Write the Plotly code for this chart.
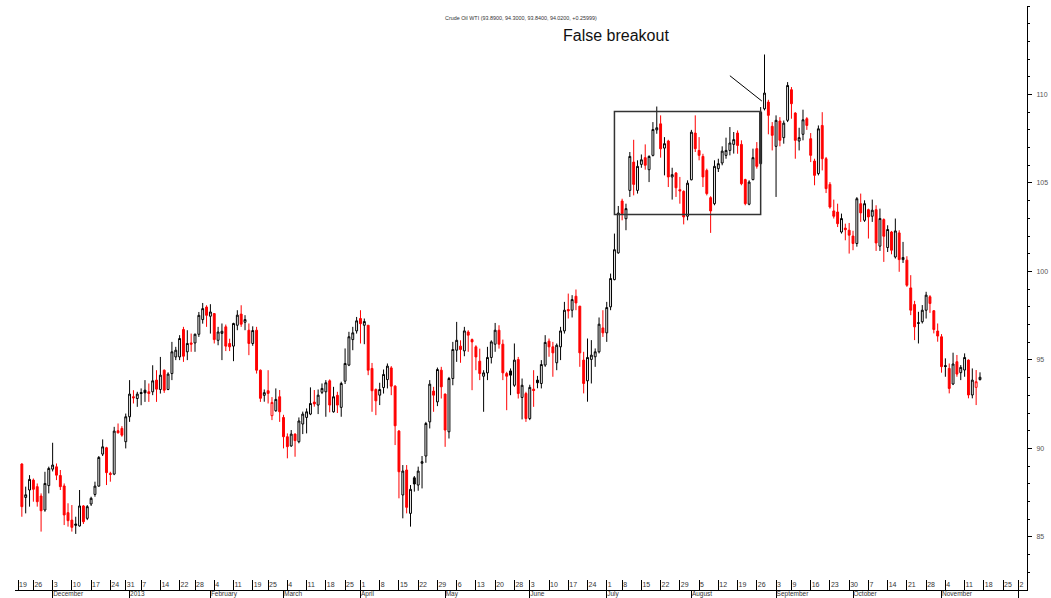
import pandas as pd
import plotly.graph_objects as go

# ---------------- data ----------------
first_date = "2012-11-20"   # first candle
open_ = [89.12, 87.23, 87.65, 88.21, 87.84, 87.31, 86.52, 87.90, 88.83, 88.96,
         88.47, 87.88, 86.37, 85.95, 85.73, 85.62, 86.75, 86.05, 86.86, 87.40,
         87.87, 89.68, 90.04, 88.59, 88.55, 91.00, 91.13, 90.38, 91.79, 92.92,
         92.82, 93.16, 93.29, 93.20, 93.20, 93.86, 93.33, 94.42, 93.33, 94.23,
         95.17, 95.17, 96.72, 95.46, 95.96, 95.96, 96.45, 97.28, 97.99, 97.47,
         97.62, 96.11, 96.50, 96.87, 95.93, 95.78, 96.96, 97.59, 97.13, 96.68,
         95.93, 96.68, 94.42, 93.00, 93.26, 91.85, 92.13, 92.92, 91.75, 90.66,
         90.14, 90.81, 90.38, 91.38, 91.75, 91.94, 92.62, 92.45, 93.17, 93.20,
         93.82, 92.07, 93.00, 92.32, 93.80, 94.71, 96.15, 96.64, 97.34, 96.96,
         96.96, 94.52, 93.33, 93.01, 93.44, 93.89, 94.55, 93.52, 90.98, 87.37,
         88.78, 86.33, 88.34, 87.93, 89.16, 89.57, 91.50, 93.24, 92.63, 94.42,
         93.07, 90.94, 93.95, 95.55, 95.78, 95.51, 96.58, 96.15, 95.74, 94.93,
         94.08, 94.27, 95.14, 95.89, 96.68, 95.89, 94.23, 94.38, 93.57, 95.02,
         92.88, 93.10, 91.69, 93.35, 93.86, 93.67, 94.71, 96.06, 95.74, 94.84,
         95.74, 96.64, 97.85, 97.81, 98.60, 98.04, 94.99, 93.82, 95.03, 95.18,
         95.46, 96.81, 96.53, 98.00, 99.54, 101.05, 103.98, 102.98, 104.58, 106.18,
         104.58, 106.05, 106.43, 105.75, 106.56, 108.00, 108.34, 106.97, 107.37, 105.34,
         105.56, 104.62, 104.53, 103.12, 105.18, 107.82, 106.84, 106.50, 105.71, 104.17,
         103.83, 105.81, 106.13, 106.56, 106.84, 107.18, 107.82, 107.18, 105.19, 103.80,
         105.19, 106.94, 106.09, 109.19, 109.57, 108.20, 107.07, 108.50, 107.56, 108.54,
         110.27, 108.95, 107.37, 107.75, 108.63, 107.50, 106.24, 105.53, 108.25, 106.37,
         104.92, 103.42, 103.36, 102.23, 102.45, 102.33, 102.00, 101.58, 103.83, 102.89,
         103.49, 103.12, 103.49, 101.43, 102.93, 101.35, 102.23, 100.82, 102.18, 100.67,
         100.64, 99.07, 98.13, 97.06, 97.16, 97.81, 98.57, 97.78, 96.63, 96.31,
         94.68, 94.52, 93.64, 94.90, 94.28, 94.43, 94.99, 93.02, 93.45, 93.89]
high = [89.16, 87.84, 88.49, 88.30, 88.02, 87.46, 88.68, 88.97, 90.32, 89.15,
        88.78, 88.02, 86.90, 86.80, 86.14, 87.65, 86.80, 86.80, 87.27, 88.12,
        89.57, 90.51, 90.09, 88.68, 91.22, 91.41, 91.26, 91.97, 93.86, 93.29,
        93.20, 93.39, 93.86, 93.67, 94.70, 94.42, 95.17, 94.46, 94.30, 96.02,
        95.74, 96.40, 96.87, 96.68, 96.49, 96.49, 97.71, 98.22, 98.09, 98.15,
        97.62, 96.87, 97.06, 97.00, 96.20, 97.10, 97.81, 98.09, 97.53, 97.06,
        96.90, 96.87, 94.46, 93.33, 94.42, 92.90, 93.39, 93.30, 91.90, 90.85,
        91.04, 90.85, 91.75, 92.08, 92.26, 93.45, 93.30, 93.33, 93.67, 93.86,
        93.90, 93.48, 93.20, 93.77, 95.65, 96.59, 96.87, 97.43, 97.81, 97.34,
        96.96, 94.83, 93.39, 93.71, 94.46, 94.80, 94.65, 93.57, 91.04, 89.06,
        89.06, 87.93, 88.44, 88.97, 89.57, 91.50, 93.86, 93.48, 94.57, 94.61,
        93.10, 94.04, 96.02, 97.15, 96.11, 96.87, 96.68, 96.21, 95.83, 95.64,
        94.42, 95.74, 96.11, 97.09, 96.96, 96.15, 94.33, 94.52, 95.93, 95.17,
        93.95, 93.20, 93.60, 94.42, 94.10, 94.99, 96.40, 96.21, 96.02, 95.93,
        96.87, 98.28, 98.75, 98.66, 98.98, 98.04, 95.46, 96.21, 96.12, 95.65,
        97.40, 97.81, 98.28, 99.88, 102.14, 103.70, 104.11, 103.83, 106.75, 107.44,
        106.28, 106.61, 107.18, 106.56, 108.44, 109.32, 108.82, 107.59, 107.44, 105.86,
        105.62, 105.34, 104.58, 105.15, 108.00, 108.82, 107.59, 106.65, 105.81, 104.25,
        106.28, 106.37, 107.07, 107.56, 108.16, 107.88, 107.97, 107.41, 105.24, 105.15,
        106.94, 107.31, 109.29, 112.26, 109.70, 108.44, 108.82, 108.72, 108.53, 110.70,
        110.42, 109.00, 108.12, 109.14, 108.72, 107.82, 106.37, 108.25, 109.00, 106.47,
        105.05, 104.06, 103.83, 103.27, 102.70, 102.74, 102.30, 104.20, 104.40, 104.02,
        103.55, 104.06, 103.74, 103.55, 103.00, 102.61, 102.29, 102.99, 102.33, 101.67,
        100.86, 99.79, 98.34, 97.72, 98.10, 98.85, 98.66, 97.81, 97.06, 96.46,
        95.09, 94.80, 95.41, 95.28, 94.71, 95.37, 95.03, 94.52, 94.43, 94.30]
low = [86.14, 86.33, 86.71, 86.99, 86.71, 85.30, 86.42, 87.46, 88.70, 88.21,
       87.65, 85.67, 85.58, 85.30, 85.17, 85.58, 85.73, 85.95, 86.75, 87.27,
       87.84, 89.57, 87.93, 88.12, 88.49, 90.85, 90.66, 90.00, 91.50, 92.54,
       92.35, 92.44, 92.63, 92.63, 93.01, 92.63, 93.10, 93.14, 93.29, 93.86,
       94.99, 94.99, 94.89, 94.99, 95.46, 95.46, 96.30, 97.05, 96.87, 96.49,
       95.93, 95.83, 94.99, 95.50, 95.50, 94.93, 96.68, 96.87, 96.68, 95.27,
       95.80, 94.23, 92.63, 92.64, 92.54, 91.60, 92.07, 91.50, 90.00, 89.44,
       90.09, 89.53, 90.29, 90.81, 90.85, 91.88, 92.36, 91.94, 93.07, 91.79,
       92.04, 92.02, 92.00, 91.79, 93.64, 94.65, 95.55, 96.49, 95.93, 95.89,
       94.14, 92.07, 91.88, 92.45, 93.10, 93.39, 93.01, 90.19, 87.18, 86.05,
       86.33, 85.58, 87.56, 87.61, 87.74, 89.19, 91.13, 92.07, 92.39, 92.82,
       90.09, 90.56, 93.57, 94.89, 94.84, 95.21, 95.46, 93.29, 94.42, 93.86,
       92.07, 93.86, 94.80, 95.46, 95.64, 93.86, 92.16, 93.01, 93.48, 92.82,
       91.64, 91.50, 91.60, 92.35, 93.40, 93.39, 94.61, 95.18, 94.05, 94.42,
       94.99, 96.49, 97.34, 97.40, 97.81, 94.61, 93.11, 92.64, 93.67, 94.61,
       95.37, 96.30, 96.02, 97.81, 99.50, 101.00, 102.89, 102.33, 104.21, 104.30,
       104.40, 105.86, 105.75, 105.05, 106.50, 107.78, 106.43, 105.43, 104.77, 104.06,
       104.21, 103.83, 102.66, 102.89, 105.15, 106.75, 106.28, 104.77, 104.30, 102.18,
       103.74, 105.62, 106.00, 106.37, 106.56, 106.66, 106.65, 104.87, 103.74, 103.74,
       105.15, 105.81, 106.05, 109.10, 107.75, 106.84, 104.21, 107.07, 107.22, 108.44,
       108.63, 106.37, 106.84, 107.41, 108.00, 106.18, 104.87, 105.43, 105.71, 104.43,
       103.55, 102.99, 102.51, 102.14, 101.76, 101.01, 101.20, 101.40, 102.80, 102.80,
       101.86, 102.80, 101.16, 101.16, 100.54, 101.10, 100.97, 100.73, 99.98, 100.48,
       99.13, 97.53, 96.12, 95.93, 97.06, 97.34, 97.66, 96.50, 96.03, 94.28,
       94.05, 93.11, 93.58, 94.05, 93.86, 94.05, 92.83, 92.83, 92.45, 93.84]
close = [86.71, 87.38, 88.25, 87.69, 86.99, 86.48, 88.02, 88.87, 89.06, 88.49,
         87.84, 86.24, 85.92, 85.54, 85.66, 86.75, 85.86, 86.71, 87.18, 87.87,
         89.49, 90.09, 88.63, 88.53, 90.98, 90.88, 90.75, 91.79, 93.07, 92.86,
         93.07, 93.10, 93.14, 93.10, 93.82, 93.35, 94.14, 93.29, 94.20, 95.46,
         95.55, 96.21, 95.21, 95.93, 95.89, 96.45, 97.52, 97.90, 97.52, 97.71,
         96.15, 96.58, 96.62, 95.78, 95.74, 97.06, 97.53, 97.02, 97.28, 95.93,
         96.66, 94.42, 92.83, 93.15, 93.11, 92.60, 92.77, 92.07, 90.66, 90.10,
         90.81, 90.44, 91.55, 91.94, 92.07, 92.54, 92.51, 93.01, 93.39, 93.71,
         92.45, 92.92, 92.45, 93.67, 94.80, 96.31, 96.53, 97.21, 97.05, 97.17,
         94.42, 93.26, 92.69, 93.33, 94.18, 94.65, 93.52, 91.28, 88.68, 88.72,
         86.67, 87.69, 87.99, 88.72, 89.25, 91.41, 93.63, 93.01, 94.46, 93.48,
         91.04, 93.95, 95.59, 96.11, 95.59, 96.64, 96.40, 96.02, 95.17, 94.23,
         94.27, 95.14, 96.02, 96.68, 95.89, 94.27, 94.08, 94.14, 94.99, 93.10,
         93.57, 91.69, 93.45, 93.27, 93.71, 94.74, 95.99, 95.74, 95.40, 95.83,
         96.64, 97.81, 97.77, 98.41, 98.22, 95.40, 93.67, 95.14, 95.27, 95.46,
         97.02, 96.53, 97.96, 99.60, 101.23, 103.30, 103.26, 103.55, 106.50, 104.92,
         105.94, 106.31, 106.00, 106.50, 108.02, 108.12, 106.93, 107.22, 105.34, 105.47,
         104.73, 104.55, 103.08, 104.99, 107.87, 106.94, 106.56, 105.34, 104.40, 103.42,
         105.94, 106.09, 106.80, 106.84, 107.26, 107.45, 107.12, 104.96, 103.83, 105.05,
         106.43, 105.94, 109.00, 110.08, 108.82, 107.69, 108.54, 107.41, 108.38, 110.51,
         109.48, 107.41, 107.56, 108.57, 108.25, 106.56, 105.43, 108.06, 106.37, 104.68,
         103.64, 103.12, 102.70, 102.99, 102.36, 102.05, 101.58, 104.11, 103.31, 103.83,
         103.08, 103.46, 101.61, 102.99, 101.99, 102.37, 101.20, 102.29, 100.67, 100.79,
         99.22, 97.81, 96.87, 97.10, 97.81, 98.66, 98.19, 96.72, 96.35, 94.62,
         94.63, 93.39, 94.77, 94.20, 94.58, 95.14, 93.02, 93.86, 93.77, 94.02]

holidays = ["2012-11-22", "2012-12-25", "2013-01-01", "2013-01-21", "2013-02-18",
            "2013-03-29", "2013-05-27", "2013-07-04", "2013-09-02", "2013-11-28"]
axis_start, axis_end = "2012-11-19", "2013-12-06"
month_names = {1: "2013", 2: "February", 3: "March", 4: "April", 5: "May", 6: "June",
               7: "July", 8: "August", 9: "September", 10: "October", 11: "November",
               12: "December"}
price_ticks = [85, 90, 95, 100, 105, 110]

title_text = "Crude Oil WTI (93.8900, 94.3000, 93.8400, 94.0200, +0.25999)"
note_text = "False breakout"
box_dates = ("2013-07-08", "2013-08-28")     # consolidation box (left/right trading days)
box_prices = (103.22, 109.04)
arrow_dates = ("2013-08-15", "2013-08-28")
arrow_prices = (111.06, 109.63)
note_date, note_price = "2013-07-08", 113.33

# ---------------- trading-day axis ----------------
days = pd.bdate_range(axis_start, axis_end)
days = days[~days.isin(pd.to_datetime(holidays))]
pos = {d: i for i, d in enumerate(days)}
n = len(close)
k0 = pos[pd.Timestamp(first_date)]
xs = list(range(k0, k0 + n))

def kx(date_str):
    return pos[pd.Timestamp(date_str)]

week_vals, week_text, month_vals, month_text = [], [], [], []
for i, d in enumerate(days):
    if i == 0 or d.weekday() < days[i - 1].weekday():
        week_vals.append(i)
        week_text.append(str(d.day))
    if i > 0 and d.month != days[i - 1].month:
        month_vals.append(i)
        last_month = (d.year == 2013 and d.month == 12)
        month_text.append("" if last_month else month_names[d.month])

# hollow-candle colouring: colour by close vs previous close
prev = [open_[0]] + close[:-1]
up = [i for i in range(n) if close[i] >= prev[i]]
dn = [i for i in range(n) if close[i] < prev[i]]

def pick(arr, idx):
    return [arr[i] for i in idx]

fig = go.Figure()
fig.add_trace(go.Candlestick(
    x=pick(xs, up), open=pick(open_, up), high=pick(high, up), low=pick(low, up), close=pick(close, up),
    increasing=dict(line=dict(color="black", width=1), fillcolor="white"),
    decreasing=dict(line=dict(color="black", width=1), fillcolor="black"),
    showlegend=False, hoverinfo="skip"))
fig.add_trace(go.Candlestick(
    x=pick(xs, dn), open=pick(open_, dn), high=pick(high, dn), low=pick(low, dn), close=pick(close, dn),
    increasing=dict(line=dict(color="#ff0000", width=1), fillcolor="white"),
    decreasing=dict(line=dict(color="#ff0000", width=1), fillcolor="#ff0000"),
    showlegend=False, hoverinfo="skip"))
# carrier trace for the month axis
fig.add_trace(go.Scatter(x=[xs[0]], y=[close[0]], xaxis="x2", mode="markers",
                         marker=dict(opacity=0), showlegend=False, hoverinfo="skip"))

W, H = 1051, 598
ml, mr, mt, mb = 15, 24, 6, 8
px_per_day = 3.848
x_left = -(18 - ml) / px_per_day
x_right = x_left + (W - ml - mr) / px_per_day
xrange = [x_left, x_right]

tick_font = dict(family="Liberation Sans, Arial, sans-serif", size=7, color="#333")
month_font = dict(family="Liberation Sans, Arial, sans-serif", size=6.5, color="#333")

fig.update_layout(
    width=W, height=H,
    margin=dict(l=ml, r=mr, t=mt, b=mb, autoexpand=False),
    paper_bgcolor="white", plot_bgcolor="white",
    showlegend=False,
    xaxis=dict(range=xrange, showgrid=False, zeroline=False, rangeslider=dict(visible=False),
               automargin=False, showline=True, linecolor="black", linewidth=1,
               tickmode="array", tickvals=week_vals, ticktext=week_text, tickangle=0,
               ticks="inside", ticklen=10, tickcolor="black", tickwidth=1,
               ticklabelposition="inside right", ticklabelstandoff=-3, tickfont=tick_font),
    xaxis2=dict(range=xrange, overlaying="x", anchor="y", side="bottom", showgrid=False,
                automargin=False, zeroline=False, showline=False, tickangle=0,
                tickmode="array", tickvals=month_vals, ticktext=month_text,
                ticks="outside", ticklen=9, tickcolor="black", tickwidth=1,
                ticklabelposition="outside right", ticklabelstandoff=-3, tickfont=month_font),
    yaxis=dict(range=[82, 115], side="right", showgrid=False, zeroline=False,
               automargin=False, showline=True, linecolor="black", linewidth=1,
               tickmode="array", tickvals=price_ticks, ticks="outside", ticklen=4, tickcolor="black",
               minor=dict(dtick=1, ticks="outside", ticklen=2, tickcolor="black"),
               ticklabelstandoff=3,
               tickfont=dict(family="Liberation Sans, Arial, sans-serif", size=7, color="#555")),
)

fig.add_shape(type="rect", xref="x", yref="y",
              x0=kx(box_dates[0]) - 2.0, x1=kx(box_dates[1]) - 1.0,
              y0=box_prices[0], y1=box_prices[1],
              line=dict(color="#333", width=1.5), fillcolor="rgba(0,0,0,0)")
fig.add_shape(type="line", xref="x", yref="y",
              x0=kx(arrow_dates[0]) + 0.0, x1=kx(arrow_dates[1]) - 0.7,
              y0=arrow_prices[0], y1=arrow_prices[1],
              line=dict(color="black", width=1))
fig.add_annotation(x=kx(note_date) - 1.7, y=note_price, xref="x", yref="y",
                   text=note_text, showarrow=False,
                   font=dict(family="Liberation Sans, Arial, sans-serif", size=16, color="#111"))
fig.add_annotation(x=0.5, y=0.988, xref="paper", yref="paper",
                   text=title_text, showarrow=False,
                   font=dict(family="Liberation Sans, Arial, sans-serif", size=5.4, color="#333"))

fig.write_html("out.html", config={"displayModeBar": False},
               post_script="document.body.style.margin='0px';")
